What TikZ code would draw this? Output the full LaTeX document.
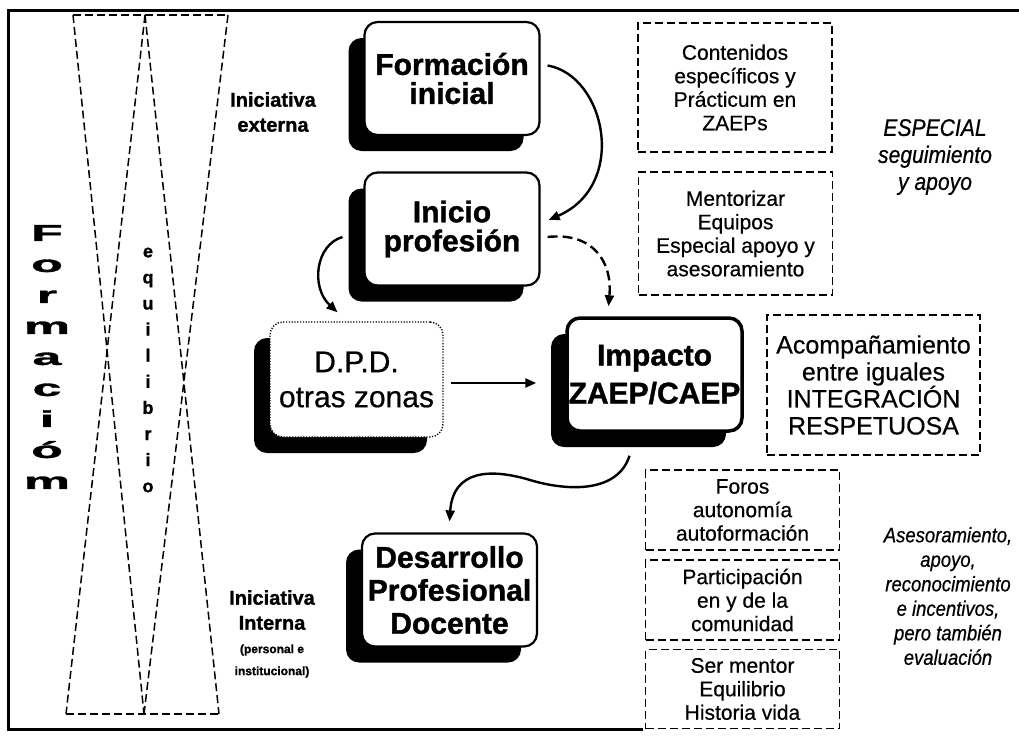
\documentclass[tikz,border=0pt]{standalone}
\usepackage{fontspec}
\setmainfont{Liberation Sans}
\newfontfamily\heavyf[BoldFeatures={FakeBold=1.3}]{Liberation Sans}
\newfontfamily\medf[FakeBold=0.5]{Liberation Sans}
\newfontfamily\condit[FakeStretch=0.88, ItalicFeatures={FakeBold=0.6}]{Liberation Sans}
\usetikzlibrary{shadows,arrows.meta,calc}
\newcommand\fsz[2]{\fontsize{#1}{#2}\selectfont}
\newcommand\widelet[1]{\scalebox{2.25}[1]{#1}}
\tikzset{
  mainbox/.style={draw, line width=2.2pt, rounded corners=13pt, fill=white,
    minimum width=175pt, minimum height=113pt, align=center, inner sep=0pt,
    font=\heavyf\bfseries\fsz{30}{30},
    drop shadow={shadow xshift=-16pt, shadow yshift=-16pt, fill=black, opacity=1}},
  dotbox/.style={draw, line width=1.4pt, dash pattern=on 1.2pt off 1.6pt, rounded corners=13pt, fill=white,
    minimum width=173pt, minimum height=115pt, align=center, inner sep=0pt,
    font=\medf\fsz{30}{35},
    drop shadow={shadow xshift=-16pt, shadow yshift=-16pt, fill=black, opacity=1}},
  dbox/.style={draw, line width=1.5pt, dash pattern=on 8pt off 4pt, align=center, inner sep=0pt,
    minimum width=194pt, font=\medf\fsz{21}{23.5}},
  dashx/.style={line width=1.5pt, dash pattern=on 8pt off 4pt},
  arr/.style={line width=2.4pt, -{Triangle[length=11pt,width=9pt]}},
  darr/.style={line width=2.4pt, dash pattern=on 10pt off 5pt, -{Triangle[length=11pt,width=9pt]}},
  lab/.style={align=center, inner sep=0pt, font=\heavyf\bfseries\fsz{20}{25}},
  ital/.style={align=center, inner sep=0pt, font=\condit\itshape},
}
\begin{document}
\begin{tikzpicture}[x=1pt,y=-1pt]
\useasboundingbox (0,0) rectangle (1019,737);
% outer frame
\coordinate (ftr) at (1019,10);
\coordinate (ftl) at (8,10);
\coordinate (fbl) at (8,729);
\coordinate (fbr) at (643,729);
\draw[line width=3pt] (ftr) -- (ftl) -- (fbl) -- (fbr);

% dashed X (hourglass)
\coordinate (xtl) at (73,15);
\coordinate (xtc) at (145,15);
\coordinate (xtr) at (228,15);
\coordinate (xbl) at (66,714);
\coordinate (xbc) at (144,714);
\coordinate (xbr) at (219,714);
\draw[dashx] (xtl) -- (xtr);
\draw[dashx] (xbl) -- (xbr);
\draw[dashx] (xtl) -- (xbc);
\draw[dashx] (xtr) -- (xbc);
\draw[dashx] (xtc) -- (xbl);
\draw[dashx] (xtc) -- (xbr);

% vertical words
\node[align=center, inner sep=0pt, font=\heavyf\bfseries\fsz{23}{31}] (formv) at (47,357)
  {\widelet{F}\\\widelet{o}\\\widelet{r}\\\widelet{m}\\\widelet{a}\\\widelet{c}\\\widelet{i}\\\widelet{ó}\\\widelet{m}};
\node[align=center, inner sep=0pt, font=\heavyf\bfseries\fsz{18}{26.1}] (equi) at (148,370)
  {e\\q\\u\\i\\l\\i\\b\\r\\i\\o};

% labels
\node[lab] (iext) at (273,112) {Iniciativa\\externa};
\node[lab] (iint) at (272,610) {Iniciativa\\Interna};
\node[lab, font=\heavyf\bfseries\fsz{12}{22}] (iint2) at (272,661) {(personal e\\institucional)};

% main boxes
\node[mainbox, font=\heavyf\bfseries\fsz{30}{29}] (fi) at (452,78.5) {Formación\\inicial};
\node[mainbox, font=\heavyf\bfseries\fsz{30}{29}] (ip) at (452,229) {Inicio\\profesión};
\node[dotbox] (dpd) at (356.5,379.5) {D.P.D.\\otras zonas};
\node[mainbox, line width=3.5pt, font=\heavyf\bfseries\fsz{30}{38}] (imp) at (654.5,374.5) {Impacto\\ZAEP/CAEP};
\node[mainbox, font=\heavyf\bfseries\fsz{30}{33}] (dpdoc) at (449.5,590) {Desarrollo\\Profesional\\Docente};

% right dashed boxes
\node[dbox, minimum height=129pt] (cont) at (735,87.5) {Contenidos\\específicos y\\Prácticum en\\ZAEPs};
\node[dbox, minimum height=123pt] (ment) at (735.5,233.5) {Mentorizar\\Equipos\\Especial apoyo y\\asesoramiento};
\node[dbox, minimum width=213pt, minimum height=140pt, font=\medf\fsz{25}{27}] (acomp) at (873.5,385) {Acompañamiento\\entre iguales\\INTEGRACIÓN\\RESPETUOSA};
\node[dbox, minimum height=80pt] (foros) at (742.5,510) {Foros\\autonomía\\autoformación};
\node[dbox, minimum height=80pt] (part) at (742.5,600) {Participación\\en y de la\\comunidad};
\node[dbox, minimum height=79pt] (ser) at (742.5,689) {Ser mentor\\Equilibrio\\Historia vida};

% italic texts
\node[ital, font=\condit\itshape\fsz{24}{27}] (espec) at (935,157) {ESPECIAL\\seguimiento\\y apoyo};
\node[ital, font=\condit\itshape\fsz{21}{24.5}] (ases) at (948,596) {Asesoramiento,\\apoyo,\\reconocimiento\\e incentivos,\\pero también\\evaluación};

% connectors
\draw[arr] ([xshift=7pt,yshift=13pt]fi.east) .. controls +(58,10) and +(80,-35) .. ([xshift=8pt,yshift=9pt]ip.east);
\draw[darr] ([xshift=7pt,yshift=-8pt]ip.east) .. controls +(45,-5) and +(4,-45) .. ([xshift=-46pt,yshift=10pt]imp.north);
\draw[arr] ([xshift=-21pt,yshift=-8pt]ip.west) .. controls +(-27,8) and +(-27,-25) .. ([xshift=-19pt,yshift=9pt]dpd.north);
\draw[arr] ([xshift=7pt,yshift=-3.5pt]dpd.east) -- ([xshift=-29pt,yshift=-8.5pt]imp.west);
\draw[arr] ([xshift=-25pt,yshift=-23pt]imp.south) .. controls (618,492) and (570,492) .. (530,480)
  .. controls (490,468) and (453,470) .. ([yshift=11pt]dpdoc.north);
\end{tikzpicture}
\end{document}
